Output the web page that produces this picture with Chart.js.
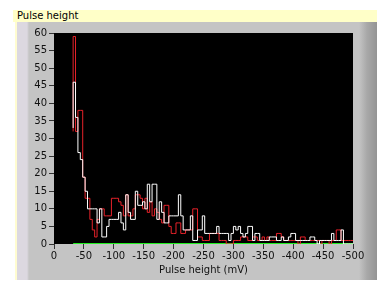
<!DOCTYPE html>
<html>
<head>
<meta charset="utf-8">
<script src="https://cdn.jsdelivr.net/npm/chart.js@4.4.1/dist/chart.umd.min.js"></script>
<style>
  body { margin: 0; background: #fff; width: 377px; height: 282px; overflow: hidden; position: relative; font-family: 'DejaVu Sans', sans-serif; }
  #titlebar { position: absolute; left: 13px; top: 10px; width: 364px; height: 12px; background: #ffffc8; font-size: 10px; line-height: 12px; padding-left: 4px; box-sizing: border-box; color: #000; }
  #panel { position: absolute; left: 15px; top: 22px; width: 362px; height: 258px; background: linear-gradient(to right, #dcd8e0 0px, #dcd8e0 10px, #c4c4c4 12px, #c4c4c4 342px, #a8a8a8 350px, #909090 362px); border-left: 2px solid #fffcd0; box-sizing: border-box; }
  #wrap { position: absolute; left: 0; top: 0; width: 377px; height: 282px; }
</style>
</head>
<body>
<div id="titlebar">Pulse height</div>
<div id="panel"></div>
<div id="wrap"><canvas id="histChart" width="377" height="282"></canvas></div>
<script>
// Histogram bins: 4 mV wide, starting at -32 mV
const firstBin = -32;
const binWidth = 4;

// counts per bin (white trace)
const whiteCounts = [
  33, 46, 36, 26, 24, 19, 15, 10, 10, 10,
  10, 6, 10, 2, 2, 5, 7, 7, 7, 7,
  9, 6, 4, 14, 9, 7, 7, 15, 11, 11,
  12, 10, 17, 12, 17, 17, 7, 12, 9, 6,
  6, 8, 8, 8, 8, 14, 8, 4, 4, 4,
  8, 1, 1, 4, 4, 8, 3, 3, 3, 3,
  3, 5, 3, 3, 3, 3, 1, 3, 5, 4,
  5, 3, 2, 3, 5, 5, 1, 3, 3, 1,
  1, 1, 1, 2, 2, 2, 1, 1, 2, 1,
  1, 2, 3, 3, 1, 1, 1, 1, 1, 1,
  2, 2, 1, 0, 1, 1, 1, 1, 1, 3,
  1, 1, 1, 4, 0, 0, 0
];

// counts per bin (red trace)
const redCounts = [
  32, 59, 32, 38, 38, 19, 13, 13, 7, 4,
  2, 7, 10, 10, 8, 8, 8, 13, 13, 13,
  12, 11, 8, 14, 8, 8, 10, 14, 14, 13,
  10, 13, 9, 12, 8, 10, 9, 7, 6, 11,
  11, 5, 3, 3, 6, 6, 3, 3, 4, 4,
  4, 10, 10, 2, 2, 1, 1, 1, 3, 3,
  3, 3, 1, 1, 1, 0, 0, 0, 1, 1,
  1, 2, 2, 2, 1, 1, 2, 2, 1, 1,
  2, 1, 2, 1, 1, 1, 3, 3, 2, 1,
  1, 1, 1, 1, 1, 0, 2, 2, 1, 1,
  1, 1, 1, 1, 0, 1, 1, 1, 0, 1,
  1, 4, 4, 1, 1, 1, 1
];

const xTicks = [0, -50, -100, -150, -200, -250, -300, -350, -400, -450, -500];
const yTicks = [0, 5, 10, 15, 20, 25, 30, 35, 40, 45, 50, 55, 60];

function toSteps(counts) {
  const pts = counts.map((c, i) => ({ x: firstBin - i * binWidth, y: c }));
  pts.push({ x: firstBin - counts.length * binWidth, y: counts[counts.length - 1] });
  return pts;
}

const baseline = [
  { x: firstBin, y: 0 },
  { x: firstBin - whiteCounts.length * binWidth, y: 0 }
];

// black plot background
const plotBg = {
  id: 'plotBg',
  beforeDraw(chart) {
    const a = chart.chartArea;
    const c = chart.ctx;
    c.save();
    c.fillStyle = '#000';
    c.fillRect(a.left, a.top, a.right - a.left, a.bottom - a.top);
    c.restore();
  }
};

const font = { family: 'DejaVu Sans', size: 10 };

new Chart(document.getElementById('histChart'), {
  type: 'line',
  data: {
    datasets: [
      { data: toSteps(whiteCounts), borderColor: '#ffffff', borderWidth: 1, stepped: 'after', pointRadius: 0, order: 0 },
      { data: toSteps(redCounts), borderColor: '#e8222a', borderWidth: 1, stepped: 'after', pointRadius: 0, order: 1 },
      { data: baseline, borderColor: '#22ee22', borderWidth: 2, pointRadius: 0, order: 2 }
    ]
  },
  options: {
    responsive: false,
    animation: false,
    layout: { padding: { left: 0, right: 24, top: 33, bottom: 6 } },
    plugins: { legend: { display: false }, tooltip: { enabled: false } },
    scales: {
      x: {
        type: 'linear',
        reverse: true,
        min: -500,
        max: 0,
        afterBuildTicks: s => { s.ticks = xTicks.map(v => ({ value: v })); },
        afterFit: s => { s.height = 32; },
        ticks: { color: '#111', font: font, padding: 1, maxRotation: 0 },
        grid: { drawOnChartArea: false, drawTicks: true, tickLength: 5, color: '#333' },
        border: { display: false },
        title: { display: true, text: 'Pulse height (mV)', color: '#111', font: font, padding: 0 }
      },
      y: {
        min: 0,
        max: 60,
        afterBuildTicks: s => { s.ticks = yTicks.map(v => ({ value: v })); },
        afterFit: s => { s.width = 54; },
        ticks: { color: '#111', font: font, padding: 2 },
        grid: { drawOnChartArea: false, drawTicks: true, tickLength: 5, color: '#333' },
        border: { display: false }
      }
    }
  },
  plugins: [plotBg]
});
</script>
</body>
</html>
